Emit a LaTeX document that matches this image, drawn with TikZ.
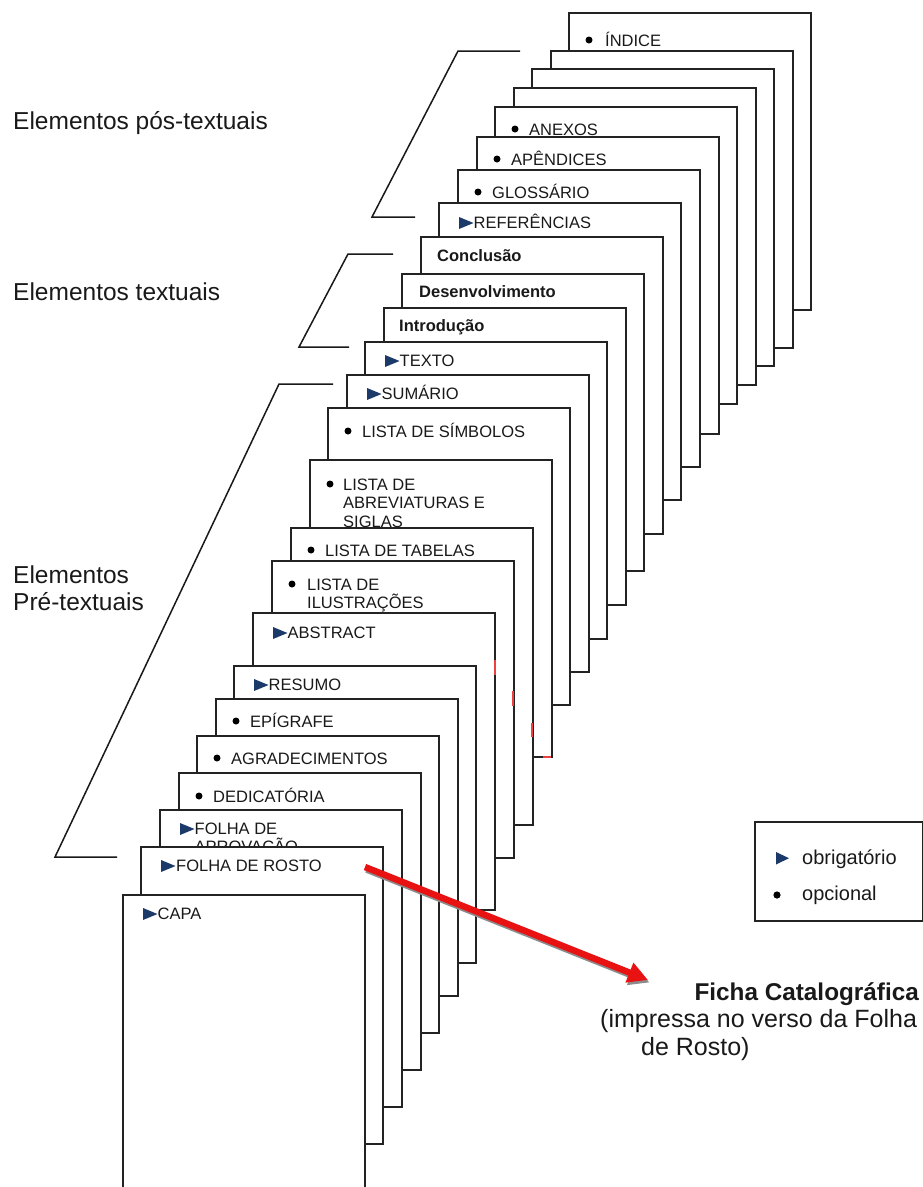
\documentclass[tikz,border=0pt]{standalone}
\usepackage{fontspec}
\setmainfont{Liberation Sans}
\usetikzlibrary{calc,arrows.meta}
\definecolor{navy}{RGB}{28,58,105}
\definecolor{edgec}{RGB}{35,35,35}
\definecolor{arrred}{RGB}{232,18,18}
\newcommand\optmark[2]{\fill[black] ($(#1.north west)+(20,#2-6)$) circle (3.5pt);}
\newcommand\obrmark[2]{\fill[navy] ($(#1.north west)+(20,#2-11)$) -- ++(0,12) -- ++(14.5,-6) -- cycle;}
\begin{document}
\begin{tikzpicture}[x=1pt,y=-1pt,
  pagebox/.style={draw=edgec, fill=white, line width=1.7pt, minimum width=242pt, minimum height=297pt, inner sep=0pt, outer sep=0pt, anchor=north west},
  pagetext/.style={font=\fontsize{16.5}{18}\selectfont, inner sep=0pt, anchor=base west, text=black!90},
  boldtext/.style={font=\fontsize{16.5}{18}\selectfont\bfseries, inner sep=0pt, anchor=base west, text=black!90},
  sidelabel/.style={font=\fontsize{24.5}{28}\selectfont, inner sep=0pt, anchor=base west, text=black!90},
  bracket/.style={draw=black!90, line width=1.5pt},
  legtext/.style={font=\fontsize{20}{24}\selectfont, inner sep=0pt, anchor=base west, text=black!90},
  fichatext/.style={font=\fontsize{25}{28}\selectfont, inner sep=0pt, text=black!90}]
\useasboundingbox (0,0) rectangle (923,1187);
\clip (0,0) rectangle (923,1187);

% side labels
\node[sidelabel] (lpos) at (13,129) {Elementos pós-textuais};
\node[sidelabel] (ltex) at (13,300) {Elementos textuais};
\node[sidelabel] (lpre1) at (13,583) {Elementos};
\node[sidelabel] (lpre2) at (13,610) {Pré-textuais};

% brackets
\draw[bracket] (520,51) -- (458,51) -- (372,217) -- (415,217);
\draw[bracket] (393,254) -- (348,254) -- (299,347) -- (349,347);
\draw[bracket] (333,384) -- (279,384) -- (55,857) -- (117,857);

% pages, back to front
\node[pagebox] (indice) at (569,13) {};
\optmark{indice}{33}
\node[pagetext] (indice-t) at ($(indice.north west)+(36,33)$) {ÍNDICE};

\node[pagebox] (bl1) at (551,51) {};
\node[pagebox] (bl2) at (532,69) {};
\node[pagebox] (bl3) at (514,88) {};

\node[pagebox] (anexos) at (495,107) {};
\optmark{anexos}{28}
\node[pagetext] (anexos-t) at ($(anexos.north west)+(34,28)$) {ANEXOS};

\node[pagebox] (apend) at (477,137) {};
\optmark{apend}{28}
\node[pagetext] (apend-t) at ($(apend.north west)+(34,28)$) {APÊNDICES};

\node[pagebox] (gloss) at (458,170) {};
\optmark{gloss}{28}
\node[pagetext] (gloss-t) at ($(gloss.north west)+(34,28)$) {GLOSSÁRIO};

\node[pagebox] (refer) at (439,203) {};
\obrmark{refer}{25}
\node[pagetext] (refer-t) at ($(refer.north west)+(34.5,25)$) {REFERÊNCIAS};

\node[pagebox] (concl) at (421,237) {};
\node[boldtext] (concl-t) at ($(concl.north west)+(16,24)$) {Conclusão};

\node[pagebox] (desenv) at (402,274) {};
\node[boldtext] (desenv-t) at ($(desenv.north west)+(17,23)$) {Desenvolvimento};

\node[pagebox] (intro) at (384,308) {};
\node[boldtext] (intro-t) at ($(intro.north west)+(15,23)$) {Introdução};

\node[pagebox] (texto) at (365,342) {};
\obrmark{texto}{24}
\node[pagetext] (texto-t) at ($(texto.north west)+(34.5,24)$) {TEXTO};

\node[pagebox] (sumario) at (347,375) {};
\obrmark{sumario}{24}
\node[pagetext] (sumario-t) at ($(sumario.north west)+(34.5,24)$) {SUMÁRIO};

\node[pagebox] (simb) at (328,408) {};
\optmark{simb}{29}
\node[pagetext] (simb-t) at ($(simb.north west)+(34,29)$) {LISTA DE SÍMBOLOS};

\node[pagebox] (abrev) at (310,460) {};
\optmark{abrev}{30}
\node[pagetext] (abrev-t1) at ($(abrev.north west)+(33,30)$) {LISTA DE};
\node[pagetext] (abrev-t2) at ($(abrev.north west)+(33,48.5)$) {ABREVIATURAS E};
\node[pagetext] (abrev-t3) at ($(abrev.north west)+(33,67)$) {SIGLAS};

\node[pagebox] (tabelas) at (291,528) {};
\optmark{tabelas}{28}
\node[pagetext] (tabelas-t) at ($(tabelas.north west)+(34,28)$) {LISTA DE TABELAS};

\node[pagebox] (ilustr) at (272,561) {};
\optmark{ilustr}{29}
\node[pagetext] (ilustr-t1) at ($(ilustr.north west)+(35,29)$) {LISTA DE};
\node[pagetext] (ilustr-t2) at ($(ilustr.north west)+(35,47.5)$) {ILUSTRAÇÕES};

\node[pagebox] (abstract) at (253,613) {};
\obrmark{abstract}{25}
\node[pagetext] (abstract-t) at ($(abstract.north west)+(34.5,25)$) {ABSTRACT};

\node[pagebox] (resumo) at (234,666) {};
\obrmark{resumo}{24}
\node[pagetext] (resumo-t) at ($(resumo.north west)+(34.5,24)$) {RESUMO};

\node[pagebox] (epig) at (216,699) {};
\optmark{epig}{28}
\node[pagetext] (epig-t) at ($(epig.north west)+(34,28)$) {EPÍGRAFE};

\node[pagebox] (agrad) at (197,736) {};
\optmark{agrad}{28}
\node[pagetext] (agrad-t) at ($(agrad.north west)+(34,28)$) {AGRADECIMENTOS};

\node[pagebox] (dedic) at (179,773) {};
\optmark{dedic}{29}
\node[pagetext] (dedic-t) at ($(dedic.north west)+(34,29)$) {DEDICATÓRIA};

\node[pagebox] (aprov) at (160,810) {};
\obrmark{aprov}{24}
\node[pagetext] (aprov-t1) at ($(aprov.north west)+(34.5,24)$) {FOLHA DE};
\node[pagetext] (aprov-t2) at ($(aprov.north west)+(34.5,42.5)$) {APROVAÇÃO};

\node[pagebox] (rosto) at (141,847) {};
\obrmark{rosto}{24}
\node[pagetext] (rosto-t) at ($(rosto.north west)+(35,24)$) {FOLHA DE ROSTO};

\node[pagebox] (capa) at (123,895) {};
\obrmark{capa}{24}
\node[pagetext] (capa-t) at ($(capa.north west)+(34.5,24)$) {CAPA};

% small red marks on page edges
\draw[arrred!80, line width=1.7pt] (495,660) -- (495,675);
\draw[arrred!80, line width=1.7pt] (513,691) -- (513,706);
\draw[arrred!80, line width=1.7pt] (532,723) -- (532,737);
\draw[arrred!80, line width=1.7pt] (543,757) -- (551,757);

% legend
\node[draw=edgec, line width=1.5pt, minimum width=168pt, minimum height=99pt, inner sep=0pt, anchor=north west] (legend) at (754,821) {};
\fill[navy] (776,852) -- (776,864.5) -- (789,858.2) -- cycle;
\node[legtext] (leg-obr) at (802,864) {obrigatório};
\fill[black] (777,895) circle (3.6pt);
\node[legtext] (leg-opc) at (802,900) {opcional};

% Ficha catalografica
\node[fichatext, font=\fontsize{24.3}{28}\selectfont\bfseries, anchor=base east] (ficha1) at (919,1000) {Ficha Catalográfica};
\node[fichatext, anchor=base west] (ficha2) at (600,1027) {(impressa no verso da Folha};
\node[fichatext, anchor=base west] (ficha3) at (641,1055) {de Rosto)};

% red arrow
\coordinate (arrS) at (365,867);
\coordinate (arrE) at (648,980);
\draw[line width=6.5pt, black!45, -{Triangle[length=20pt,width=20pt]}] ($(arrS)+(1.5,2.5)$) -- ($(arrE)+(1.5,2.5)$);
\draw[line width=6.5pt, arrred, -{Triangle[length=20pt,width=20pt]}] (arrS) -- (arrE);
\end{tikzpicture}
\end{document}
